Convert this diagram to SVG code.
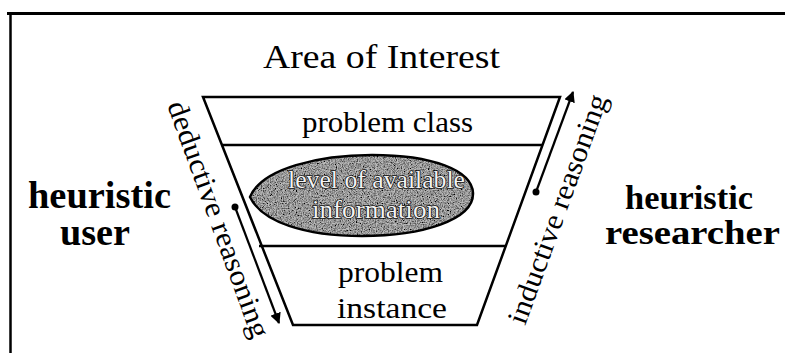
<svg xmlns="http://www.w3.org/2000/svg" width="785" height="353" viewBox="0 0 785 353">
<style>
.t{font-family:"Liberation Serif","Times New Roman",serif;fill:#000}
.b{font-weight:bold}
.edge{stroke:#000;stroke-width:2.5;fill:none}
.conn{stroke:#000;stroke-width:2.2;fill:none}
.inner{font-family:"Liberation Serif","Times New Roman",serif;fill:#f2f2f2;stroke:#111;stroke-width:1.6;paint-order:stroke;stroke-linejoin:round}
</style>
<defs>
<marker id="ah" viewBox="0 0 10 10" refX="9" refY="5" markerWidth="5" markerHeight="5" orient="auto" markerUnits="strokeWidth">
<path d="M0,0 L10,5 L0,10 Z" fill="#000"/>
</marker>
<filter id="grain" x="0" y="0" width="100%" height="100%">
<feTurbulence type="fractalNoise" baseFrequency="0.85" numOctaves="2" seed="4" result="t"/>
<feColorMatrix in="t" type="matrix" values="0 0 0 0 0  0 0 0 0 0  0 0 0 0 0  0 0 0 -2.2 1.5" result="dots"/>
<feComposite in="dots" in2="SourceGraphic" operator="in" result="d2"/>
<feMerge><feMergeNode in="SourceGraphic"/><feMergeNode in="d2"/></feMerge>
</filter>
</defs>
<rect width="785" height="353" fill="#fff"/>
<g id="frame">
<line x1="7" y1="13.5" x2="785" y2="13.5" stroke="#000" stroke-width="3"/>
<line x1="10.5" y1="12" x2="10.5" y2="353" stroke="#000" stroke-width="2.5"/>
</g>
<g id="title">
<text class="t" x="263" y="68" font-size="33" textLength="237" lengthAdjust="spacingAndGlyphs">Area of Interest</text>
</g>
<g id="funnel">
<polygon class="edge" points="203,97 560,97 477,325 293,325"/>
<line class="edge" x1="221" y1="145" x2="542" y2="145"/>
<line class="edge" x1="259" y1="246" x2="505" y2="246"/>
</g>
<g id="problem-class">
<text class="t" x="302" y="132" font-size="29" textLength="171" lengthAdjust="spacingAndGlyphs">problem class</text>
</g>
<g id="available-information">
<path d="M250,197 C262,168 320,155 372,155 C432,155 472,170 473,193 C474,220 422,236 362,236 C305,236 262,222 250,197 Z" fill="#bdbdbd" filter="url(#grain)"/>
<path d="M250,197 C262,168 320,155 372,155 C432,155 472,170 473,193 C474,220 422,236 362,236 C305,236 262,222 250,197 Z" fill="none" stroke="#000" stroke-width="2.5"/>
<text class="inner" x="288" y="188" font-size="26" textLength="177" lengthAdjust="spacingAndGlyphs">level of available</text>
<text class="inner" x="312" y="218" font-size="26" textLength="128" lengthAdjust="spacingAndGlyphs">information</text>
</g>
<g id="problem-instance">
<text class="t" x="338" y="282" font-size="29" textLength="105" lengthAdjust="spacingAndGlyphs">problem</text>
<text class="t" x="337" y="318" font-size="29" textLength="110" lengthAdjust="spacingAndGlyphs">instance</text>
</g>
<g id="heuristic-user">
<text class="t b" x="28" y="208" font-size="37" textLength="143" lengthAdjust="spacingAndGlyphs">heuristic</text>
<text class="t b" x="60" y="245" font-size="37" textLength="70" lengthAdjust="spacingAndGlyphs">user</text>
</g>
<g id="heuristic-researcher">
<text class="t b" x="625" y="209" font-size="33" textLength="128" lengthAdjust="spacingAndGlyphs">heuristic</text>
<text class="t b" x="605" y="244" font-size="33" textLength="175" lengthAdjust="spacingAndGlyphs">researcher</text>
</g>
<g id="deductive-label">
<text class="t" transform="translate(167,105) rotate(70)" font-size="29" textLength="250" lengthAdjust="spacingAndGlyphs">deductive reasoning</text>
</g>
<g id="inductive-label">
<text class="t" transform="translate(525,326) rotate(-70)" font-size="29" textLength="242" lengthAdjust="spacingAndGlyphs">inductive reasoning</text>
</g>
<g id="connectors">
<line class="conn" x1="235" y1="207" x2="279" y2="323" marker-end="url(#ah)"/>
<circle cx="235" cy="207" r="3.5" fill="#000"/>
<line class="conn" x1="536" y1="192" x2="573" y2="92" marker-end="url(#ah)"/>
<circle cx="536" cy="192" r="3.5" fill="#000"/>
</g>
</svg>
